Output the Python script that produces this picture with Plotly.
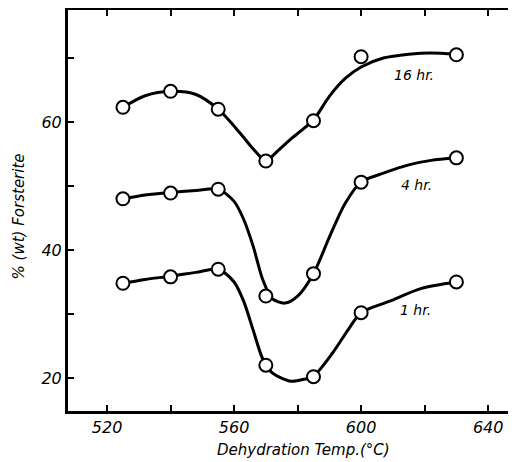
import plotly.graph_objects as go

# measured points (dehydration temp in C, % wt forsterite)
temps = [525, 540, 555, 570, 585, 600, 630]
hr16 = [62.3, 64.8, 62.0, 53.9, 60.2, 70.2, 70.5]
hr4 = [48.0, 48.9, 49.5, 32.8, 36.3, 50.6, 54.4]
hr1 = [34.8, 35.8, 37.0, 22.0, 20.2, 30.2, 35.0]

# hand-drawn curves
curve16_t = [525, 532, 540, 548, 555, 562, 566, 570, 574, 578, 582, 585, 590, 595, 600, 607, 615, 622, 630]
curve16_v = [62.3, 64.1, 64.8, 64.3, 62.0, 58.2, 55.8, 54.0, 55.6, 57.4, 59.0, 60.3, 64.0, 66.8, 68.6, 70.0, 70.6, 70.8, 70.6]
curve4_t = [525, 532, 540, 548, 555, 560, 563, 566, 569, 572, 576, 580, 585, 590, 595, 600, 607, 615, 622, 630]
curve4_v = [48.0, 48.6, 49.0, 49.3, 49.5, 47.6, 44.8, 40.6, 35.4, 32.4, 31.7, 32.8, 36.3, 42.0, 47.3, 50.6, 52.0, 53.3, 54.0, 54.4]
curve1_t = [525, 532, 540, 548, 555, 560, 563, 566, 569, 572, 578, 582, 585, 591, 596, 600, 609, 619, 630]
curve1_v = [34.8, 35.4, 35.9, 36.5, 37.0, 35.0, 32.0, 27.5, 23.0, 20.8, 19.5, 19.8, 20.3, 23.9, 27.6, 30.2, 32.0, 34.0, 35.0]

labels = ["16 hr.", "4 hr.", "1 hr."]
label_t = [616.5, 617.5, 617.0]
label_v = [67.3, 50.2, 30.6]

FONT = "DejaVu Sans"

fig = go.Figure()
for ct, cv in [(curve16_t, curve16_v), (curve4_t, curve4_v), (curve1_t, curve1_v)]:
    fig.add_trace(go.Scatter(
        x=ct, y=cv, mode="lines",
        line=dict(color="black", width=3, shape="spline", smoothing=0.8),
        showlegend=False, hoverinfo="skip",
    ))
for vals in [hr16, hr4, hr1]:
    fig.add_trace(go.Scatter(
        x=temps, y=vals, mode="markers",
        marker=dict(symbol="circle", size=13, color="white",
                    line=dict(color="black", width=2)),
        showlegend=False,
    ))

for txt, t, v in zip(labels, label_t, label_v):
    fig.add_annotation(x=t, y=v, text=txt, showarrow=False,
                       font=dict(family=FONT, size=14, color="black", style="italic"))

fig.add_annotation(xref="paper", yref="paper", x=0.524, y=-0.097,
                   xanchor="center", yanchor="middle",
                   text="Dehydration Temp.(°C)", showarrow=False,
                   font=dict(family=FONT, size=15, color="black", style="italic"))
fig.add_annotation(xref="paper", yref="paper", x=-0.11, y=0.484,
                   xanchor="center", yanchor="middle",
                   text="% (wt) Forsterite", showarrow=False, textangle=-90,
                   font=dict(family=FONT, size=15, color="black", style="italic"))

fig.update_xaxes(
    range=[507.7, 649.4], tickvals=[520, 540, 560, 580, 600, 620, 640],
    ticktext=["520", "", "560", "", "600", "", "640"],
    ticks="inside", ticklen=6, tickwidth=2, tickcolor="black",
    showline=True, linewidth=3, linecolor="black", mirror="ticks",
    showgrid=False, zeroline=False, automargin=False,
    tickfont=dict(family=FONT, size=16, color="black", style="italic"),
)
fig.update_yaxes(
    range=[14.84, 77.5], tickvals=[20, 30, 40, 50, 60, 70],
    ticktext=["20", "", "40", "", "60", ""],
    ticks="inside", ticklen=6, tickwidth=2, tickcolor="black",
    showline=True, linewidth=3, linecolor="black", mirror="ticks",
    showgrid=False, zeroline=False, automargin=False,
    tickfont=dict(family=FONT, size=16, color="black", style="italic"),
)
# page body adds ~8px offset; right frame edge sits just past the window like the scan
fig.update_layout(
    width=510, height=454,
    margin=dict(l=60, r=0, t=2, b=51),
    paper_bgcolor="white", plot_bgcolor="white",
)
fig.write_html("out.html")
